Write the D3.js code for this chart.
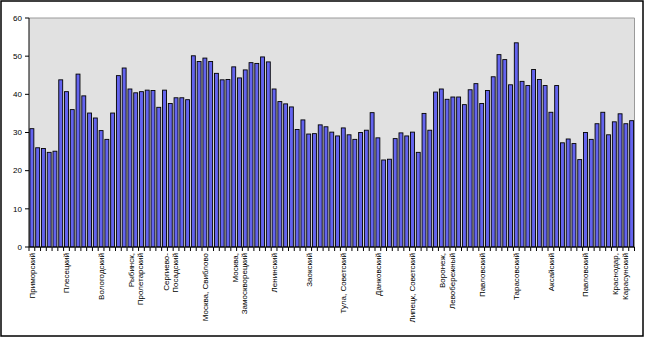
<!DOCTYPE html>
<html><head><meta charset="utf-8">
<script src="https://cdn.jsdelivr.net/npm/d3@7"></script>
<style>body{margin:0;background:#fff;}svg{display:block;font-family:"Liberation Sans",Arial,sans-serif;}</style>
</head><body>
<script>
// values per category (105 districts)
const values = [
 31, 26, 25.8, 24.8, 25.1, 43.8, 40.7, 36, 45.3, 39.6, 35.1, 33.8, 30.5, 28.2, 35.1, 44.9, 46.9, 41.4,
 40.4, 40.7, 41.1, 41.0, 36.6, 41.1, 37.6, 39.1, 39.1, 38.6, 50.1, 48.6, 49.5, 48.6, 45.5, 43.8, 43.9,
 47.2, 44.3, 46.4, 48.3, 48.1, 49.8, 48.5, 41.4, 38.1, 37.5, 36.7, 30.8, 33.3, 29.6, 29.7, 32, 31.5,
 30.1, 29.1, 31.2, 29.4, 28.2, 30, 30.6, 35.2, 28.6, 22.8, 23, 28.4, 29.9, 29.1, 30.1, 24.8, 35, 30.6,
 40.6, 41.4, 38.7, 39.3, 39.3, 37.3, 41.2, 42.8, 37.6, 41, 44.6, 50.4, 49.1, 42.5, 53.5, 43.4, 42.3,
 46.5, 43.9, 42.3, 35.3, 42.3, 27.3, 28.3, 27.1, 22.9, 30, 28.2, 32.3, 35.3, 29.4, 32.8, 34.9, 32.3, 33.1
];
const categories = values.map((v, i) => "c" + (i + 1));
// category labels shown on the axis (every 6th category)
const tickLabels = [
 ["Приморский"], ["Плесецкий"], ["Вологодский"], ["Рыбинск,", "Пролетарский"],
 ["Сергиево-", "Посадский"], ["Москва, Свиблово"], ["Москва,", "Замоскворецкий"],
 ["Ленинский"], ["Заокский"], ["Тула, Советский"], ["Данковский"], ["Липецк, Советский"],
 ["Воронеж,", "Левобережный"], ["Павловский"], ["Тарасовский"], ["Аксайский"],
 ["Павловский"], ["Краснодар,", "Карасунский"]
];
const labelEvery = 6;
const yTicks = [0, 10, 20, 30, 40, 50, 60];

const W = 645, H = 338;
const m = {l: 29, t: 18, r: 634.5, b: 247};
const svg = d3.select("body").append("svg").attr("width", W).attr("height", H);

svg.append("rect").attr("x", 1).attr("y", 1).attr("width", 642).attr("height", 335)
  .attr("fill", "#fff").attr("stroke", "#000").attr("stroke-width", 1.5);

const x = d3.scaleBand().domain(categories).range([m.l, m.r]).paddingInner(0.32).paddingOuter(0.16);
const y = d3.scaleLinear().domain([0, 60]).range([m.b, m.t]);

svg.append("rect").attr("x", m.l).attr("y", m.t).attr("width", m.r - m.l).attr("height", m.b - m.t)
  .attr("fill", "#e1e1e1");
svg.append("path").attr("d", `M${m.l},${m.t}H${m.r}V${m.b}`).attr("fill", "none")
  .attr("stroke", "#9a9a9a").attr("stroke-width", 1);

svg.append("g").selectAll("rect").data(values).join("rect")
  .attr("x", (d, i) => x(categories[i]))
  .attr("y", d => y(d))
  .attr("width", x.bandwidth())
  .attr("height", d => y(0) - y(d))
  .attr("fill", "#6464ee").attr("stroke", "#000").attr("stroke-width", 0.9);

// y axis
const ya = svg.append("g");
ya.append("line").attr("x1", m.l).attr("x2", m.l).attr("y1", m.t).attr("y2", m.b).attr("stroke", "#000");
yTicks.forEach(t => {
  ya.append("line").attr("x1", m.l - 4).attr("x2", m.l).attr("y1", y(t)).attr("y2", y(t)).attr("stroke", "#000");
  ya.append("text").attr("x", 22).attr("y", y(t)).attr("dy", "0.35em").attr("text-anchor", "end")
    .attr("font-size", 8).text(t);
});

// x axis
const xa = svg.append("g");
xa.append("line").attr("x1", m.l).attr("x2", m.r).attr("y1", m.b).attr("y2", m.b).attr("stroke", "#000");
const step = x.step();
d3.range(categories.length + 1).forEach(i => {
  const xx = m.l + i * step;
  xa.append("line").attr("x1", xx).attr("x2", xx).attr("y1", m.b).attr("y2", m.b + 4).attr("stroke", "#000");
});
tickLabels.forEach((lines, k) => {
  const cx = x(categories[k * labelEvery]) + x.bandwidth() / 2;
  const n = lines.length;
  lines.forEach((s, j) => {
    const off = (j - (n - 1) / 2) * 9.5;
    xa.append("text")
      .attr("transform", `translate(${cx + off + 3},253) rotate(-90)`)
      .attr("text-anchor", "end").attr("font-size", 8).text(s);
  });
});
</script>
</body></html>
